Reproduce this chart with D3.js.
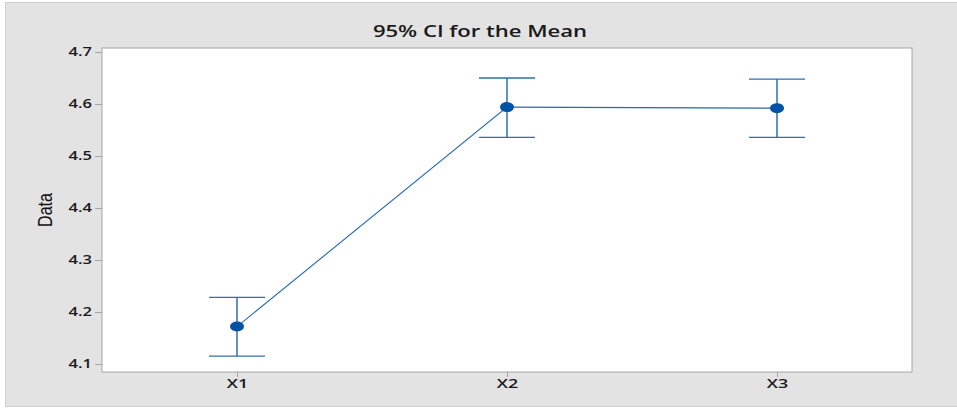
<!DOCTYPE html>
<html>
<head>
<meta charset="utf-8">
<script src="https://cdn.jsdelivr.net/npm/d3@7"></script>
<style>
  body { margin: 0; background: #fff; }
  svg text { font-family: "Open Sans", sans-serif; }
</style>
</head>
<body>
<div id="chart"></div>
<script>
const categories = ["X1", "X2", "X3"];
const means = [4.172, 4.594, 4.592];
const lower = [4.115, 4.536, 4.536];
const upper = [4.228, 4.650, 4.648];
const yTicks = [4.1, 4.2, 4.3, 4.4, 4.5, 4.6, 4.7];

const width = 957, height = 409;
const plot = {left: 102, top: 48, right: 912, bottom: 372};
const stretch = 1.38; // text in the original is drawn wide

const svg = d3.select("#chart")
  .append("svg")
  .attr("width", width)
  .attr("height", height);

// outer panel
svg.append("rect")
  .attr("x", 5.5).attr("y", 2.5)
  .attr("width", 960).attr("height", 404)
  .attr("fill", "#e3e3e3")
  .attr("stroke", "#cfcfcf");

svg.append("rect")
  .attr("x", plot.left).attr("y", plot.top)
  .attr("width", plot.right - plot.left).attr("height", plot.bottom - plot.top)
  .attr("fill", "#fff")
  .attr("stroke", "#a6a6a6");

const x = d3.scalePoint()
  .domain(categories)
  .range([plot.left, plot.right])
  .padding(0.5);

const y = d3.scaleLinear()
  .domain([4.1 - 8 / 520, 4.7 + 4 / 520])
  .range([plot.bottom, plot.top]);

// y axis
const yAxis = svg.append("g")
  .attr("transform", `translate(${plot.left},0)`)
  .call(d3.axisLeft(y).tickValues(yTicks).tickFormat(d3.format(".1f")).tickSize(7));
yAxis.select(".domain").remove();
yAxis.selectAll("line").attr("stroke", "#a6a6a6");
yAxis.selectAll("text")
  .attr("x", 0)
  .attr("transform", `translate(-10,0) scale(${stretch},1)`)
  .attr("fill", "#1a1a1a")
  .style("font-size", "12px")
  .style("font-weight", 600);

// x axis
const xAxis = svg.append("g")
  .attr("transform", `translate(0,${plot.bottom})`)
  .call(d3.axisBottom(x).tickSize(5));
xAxis.select(".domain").remove();
xAxis.selectAll("line").attr("stroke", "#a6a6a6");
xAxis.selectAll("text")
  .attr("y", 0)
  .attr("dy", "0")
  .attr("transform", `translate(0,16) scale(${stretch},1)`)
  .attr("fill", "#1a1a1a")
  .style("font-size", "13px")
  .style("font-weight", 600);

// title
svg.append("text")
  .attr("transform", `translate(480,37) scale(${stretch},1)`)
  .attr("text-anchor", "middle")
  .attr("fill", "#1a1a1a")
  .style("font-size", "16px")
  .style("font-weight", 600)
  .text("95% CI for the Mean");

// y label
svg.append("text")
  .attr("transform", "translate(52,210) rotate(-90) scale(0.8,1)")
  .attr("text-anchor", "middle")
  .attr("fill", "#111")
  .style("font-family", "'Liberation Sans', Arial, sans-serif")
  .style("font-size", "20px")
  .text("Data");

const rows = categories.map((c, i) => ({cat: c, mean: means[i], lo: lower[i], hi: upper[i]}));
const capHalf = 28;
const ciColor = "#2f6eb5";

// error bars
const bars = svg.append("g").selectAll("g")
  .data(rows).join("g");
bars.append("line")
  .attr("x1", d => x(d.cat)).attr("x2", d => x(d.cat))
  .attr("y1", d => y(d.hi)).attr("y2", d => y(d.lo))
  .attr("stroke", ciColor).attr("stroke-width", 1.5);
bars.append("line")
  .attr("x1", d => x(d.cat) - capHalf).attr("x2", d => x(d.cat) + capHalf)
  .attr("y1", d => y(d.hi)).attr("y2", d => y(d.hi))
  .attr("stroke", ciColor).attr("stroke-width", 1.3);
bars.append("line")
  .attr("x1", d => x(d.cat) - capHalf).attr("x2", d => x(d.cat) + capHalf)
  .attr("y1", d => y(d.lo)).attr("y2", d => y(d.lo))
  .attr("stroke", ciColor).attr("stroke-width", 1.3);

// connecting line
svg.append("path")
  .datum(rows)
  .attr("fill", "none")
  .attr("stroke", "#2469b3")
  .attr("stroke-width", 1.1)
  .attr("d", d3.line().x(d => x(d.cat)).y(d => y(d.mean)));

// mean markers
svg.append("g").selectAll("ellipse")
  .data(rows).join("ellipse")
  .attr("cx", d => x(d.cat))
  .attr("cy", d => y(d.mean))
  .attr("rx", 7).attr("ry", 5)
  .attr("fill", "#0052a5");
</script>
</body>
</html>
